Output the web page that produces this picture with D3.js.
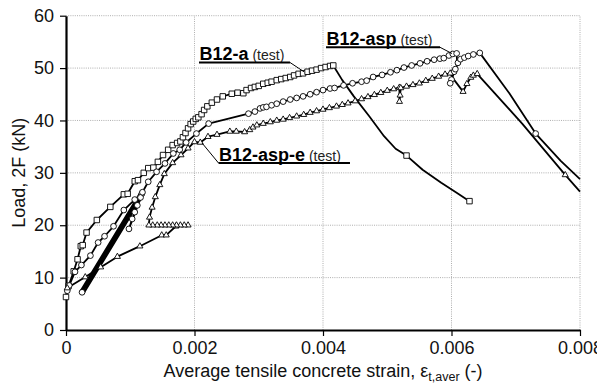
<!DOCTYPE html>
<html><head><meta charset="utf-8">
<script src="https://cdn.jsdelivr.net/npm/d3@7"></script>
<style>body{margin:0;background:#fff}svg{display:block}</style>
</head><body>
<svg id="c" width="597" height="383"></svg>
<script>
// ---- data ----
const xTicks = [0, 0.002, 0.004, 0.006, 0.008];
const xTickLabels = ["0", "0.002", "0.004", "0.006", "0.008"];
const yTicks = [0, 10, 20, 30, 40, 50, 60];
const seriesNames = ["B12-a", "B12-asp", "B12-asp-e"];
const testTag = "(test)";

// [strain, load (kN), measured point shown with marker 1/0]
const b12a = [
 [0,6.3,1],[0.00004,8.4,1],[0.00012,11.2,1],[0.00018,13.5,1],[0.00023,16.0,1],[0.00026,16.2,1],
 [0.00032,18.6,1],[0.00048,21.0,1],[0.00069,23.5,1],[0.0009,25.9,1],[0.00096,26.0,1],[0.00107,28.4,1],
 [0.00112,28.6,1],[0.00121,30.0,1],[0.00128,30.9,1],[0.00136,31.0,1],[0.00143,32.1,1],[0.00151,33.4,1],
 [0.00159,34.4,1],[0.00166,35.3,1],[0.00173,35.7,1],[0.00178,36.0,1],[0.00182,36.8,1],[0.00186,37.6,1],
 [0.0019,38.5,1],[0.00194,39.3,1],[0.00198,39.8,1],[0.00202,40.3,1],[0.00206,40.6,1],[0.00211,41.2,1],
 [0.00215,42.0,1],[0.0022,42.7,1],[0.00227,43.4,1],[0.00235,44.0,1],[0.00244,44.6,1],[0.00258,45.1,1],
 [0.00267,45.3,1],[0.00276,45.2,1],[0.00281,45.8,1],[0.00288,46.2,1],[0.00294,46.4,1],[0.003,46.6,1],
 [0.00307,47.0,1],[0.00314,47.2,1],[0.0032,47.4,1],[0.00328,47.7,1],[0.00335,47.9,1],[0.00342,48.1,1],
 [0.00349,48.3,1],[0.00355,48.6,1],[0.00362,48.9,1],[0.00369,49.0,1],[0.00376,49.3,1],[0.00383,49.5,1],
 [0.0039,49.7,1],[0.00397,50.0,1],[0.00404,50.2,1],[0.00411,50.4,1],[0.00416,50.5,1],
 [0.0043,47.7,0],[0.00448,44.6,0],[0.00472,40.8,0],[0.00495,37.0,0],[0.00513,34.6,0],[0.0053,33.3,1],
 [0.00555,30.6,0],[0.00584,28.1,0],[0.00608,26.2,0],[0.00628,24.6,1]
];

const b12asp = [
 [0.00002,7.5,1],[0.00005,8.5,1],[0.00014,11.1,1],[0.00024,12.4,1],[0.00038,14.2,1],[0.0005,16.7,1],
 [0.0006,17.9,1],[0.00074,19.8,1],[0.0009,22.9,1],[0.00107,24.9,1],[0.00118,26.0,1],
 [0.00025,7.2,1],[0.001206,25.8,0],[0.000276,7.0,0],[0.00118,26.0,0],[0.000224,7.4,0],[0.001154,26.2,0],
 [0.00025,7.2,0],[0.00119,26.1,0],
 [0.00098,19.3,1],[0.00103,21.2,1],[0.00107,22.5,1],[0.00111,23.8,1],[0.00116,25.3,1],[0.00119,26.3,1],
 [0.00128,28.3,1],[0.00141,30.2,1],[0.00154,31.8,1],[0.00167,33.7,1],[0.00177,34.4,1],[0.00187,35.8,1],
 [0.00203,37.5,1],[0.00222,39.4,1],
 [0.00284,41.3,1],[0.00294,41.7,1],[0.00302,42.3,1],[0.00307,42.5,1],[0.00312,42.6,1],[0.0032,42.9,1],
 [0.00328,43.2,1],[0.00338,43.6,1],[0.00349,44.0,1],[0.00359,44.3,1],[0.00369,44.6,1],[0.0038,45.0,1],
 [0.0039,45.4,1],[0.004,45.8,1],[0.00411,46.1,1],[0.00418,46.2,1],[0.00432,46.7,1],[0.00446,47.1,1],
 [0.0046,47.4,1],[0.00468,47.6,1],[0.00478,48.3,1],[0.00492,48.7,1],[0.00505,49.2,1],[0.00515,49.6,1],
 [0.00526,50.1,1],[0.00538,50.5,1],[0.00551,50.9,1],[0.00562,51.3,1],[0.00573,51.6,1],[0.00582,51.8,1],
 [0.00588,51.9,1],[0.00596,52.4,1],[0.00602,52.7,1],[0.00608,52.8,1],
 [0.00609,50.6,0],[0.00604,49.3,1],[0.006,47.8,1],[0.00598,47.1,1],[0.00606,49.8,1],[0.0061,51.0,1],
 [0.00614,51.7,1],[0.0062,52.0,1],[0.00626,52.3,1],[0.00634,52.6,1],[0.00644,52.9,1],
 [0.0069,45.2,0],[0.00731,37.5,1],[0.0077,32.3,0],[0.008,28.8,0]
];

const b12aspE = [
 [0.00002,8.0,1],[0.0003,10.1,1],[0.00054,12.0,1],[0.0008,14.0,1],[0.00115,16.0,1],[0.00149,18.1,1],
 [0.00156,18.1,1],[0.00171,19.8,1],[0.0019,20.0,1],
 [0.00184,20,1],[0.00178,20,1],[0.00172,20,1],[0.00166,20,1],[0.0016,20,1],[0.00154,20,1],
 [0.00148,20,1],[0.00142,20,1],[0.00135,20,1],[0.00129,20,1],
 [0.0013,21.5,1],[0.00134,23.4,1],[0.00139,25.4,1],[0.00146,27.7,1],[0.00153,29.8,1],[0.00166,31.9,1],
 [0.00179,33.4,1],[0.0019,34.7,1],[0.002,35.9,1],[0.00209,35.8,1],[0.00221,36.9,1],[0.00235,37.3,1],
 [0.00255,37.9,1],[0.00265,37.9,1],[0.00278,37.8,1],[0.00286,38.2,1],[0.00291,38.7,1],[0.00297,39.1,1],
 [0.00307,39.4,1],[0.00318,39.7,1],[0.00328,40.0,1],[0.00338,40.2,1],[0.00348,40.5,1],[0.00359,40.8,1],
 [0.0037,41.1,1],[0.0038,41.5,1],[0.0039,41.8,1],[0.004,42.1,1],[0.0041,42.4,1],[0.00421,42.7,1],
 [0.0043,43.0,1],[0.00439,43.3,1],[0.0045,43.7,1],[0.0046,44.1,1],[0.0047,44.5,1],[0.0048,44.9,1],
 [0.0049,45.3,1],[0.005,45.7,1],[0.0051,46.0,1],[0.00519,46.3,1],
 [0.00519,43.6,1],[0.0052,44.8,1],[0.00521,46.2,1],
 [0.0053,46.5,1],[0.0054,46.8,1],[0.0055,47.1,1],[0.0056,47.6,1],[0.0057,48.0,1],[0.0058,48.4,1],
 [0.0059,48.8,1],[0.00598,49.0,1],
 [0.00605,47.6,0],[0.00618,45.5,1],[0.00624,47.0,1],[0.0063,48.2,1],[0.00634,48.6,1],[0.0064,48.9,1],
 [0.0071,39.4,0],[0.00777,29.6,1],[0.008,26.4,0]
];

// label annotations in data units: underline start, underline end strain, leader target
const labelStart = [[0.00207,51.07],[0.004047,53.97],[0.002374,31.88]];
const labelEnd   = [0.003486, 0.005821, 0.00442];
const labelTarget= [[0.003704,49.3],[0.006008,52.78],[0.002117,35.7]];

// ---- chart ----
const svg=d3.select("#c");
const x=d3.scaleLinear().domain([0,0.008]).range([66,580]);
const y=d3.scaleLinear().domain([0,60]).range([330,15.7]);
const FONT="'Liberation Sans', Arial, Helvetica, sans-serif";

// grid
const g=svg.append("g");
g.selectAll("line.gy").data(yTicks.filter(d=>d>0)).join("line")
 .attr("x1",x(0)).attr("x2",x(0.008)).attr("y1",d=>y(d)).attr("y2",d=>y(d))
 .attr("stroke","#9a9a9a").attr("stroke-width",0.8).attr("stroke-dasharray","1,1.2");
g.selectAll("line.gx").data(xTicks.filter(d=>d>0)).join("line")
 .attr("y1",y(0)).attr("y2",y(60)).attr("x1",d=>x(d)).attr("x2",d=>x(d))
 .attr("stroke","#9a9a9a").attr("stroke-width",0.8).attr("stroke-dasharray","1,1.2");

// axes
const ax=svg.append("g").attr("transform",`translate(0,${y(0)})`)
 .call(d3.axisBottom(x).tickValues(xTicks).tickFormat((d,i)=>xTickLabels[i]).tickSize(6).tickPadding(5).tickSizeOuter(0));
const ay=svg.append("g").attr("transform",`translate(${x(0)},0)`)
 .call(d3.axisLeft(y).tickValues(yTicks).tickSize(6).tickPadding(6).tickSizeOuter(0));
[ax,ay].forEach(a=>{
 a.select(".domain").attr("stroke","#000").attr("stroke-width",2.2);
 a.selectAll(".tick line").attr("stroke","#000").attr("stroke-width",1.2);
 a.selectAll(".tick text").attr("font-family",FONT).attr("font-size",18).attr("fill","#111");
});

// series
const line=d3.line().x(d=>x(d[0])).y(d=>y(d[1]));
const plot=svg.append("g");
const all=[b12a,b12asp,b12aspE];
const symbols=[d3.symbolSquare,d3.symbolCircle,d3.symbolTriangle];
const sizes=[30,26,16];
all.forEach((s,i)=>{
 plot.append("path").datum(s).attr("d",line).attr("fill","none").attr("stroke","#000")
  .attr("stroke-width",1.8).attr("stroke-linejoin","round");
});
all.forEach((s,i)=>{
 plot.append("g").selectAll("path").data(s.filter(d=>d[2])).join("path")
  .attr("transform",d=>`translate(${x(d[0])},${y(d[1])})`)
  .attr("d",d3.symbol(symbols[i],sizes[i]))
  .attr("fill","#fff").attr("stroke","#000").attr("stroke-width",0.9);
});

// labels
const lab=svg.append("g");
seriesNames.forEach((n,i)=>{
 const sx=x(labelStart[i][0]), sy=y(labelStart[i][1]);
 const ex=x(labelEnd[i]);
 const t=lab.append("text").attr("x",sx+0.5).attr("y",sy-2.5).attr("font-family",FONT).attr("fill","#000");
 t.append("tspan").attr("font-weight","bold").attr("font-size",18).text(n);
 t.append("tspan").attr("font-size",14).attr("fill","#222").text(" "+testTag);
 lab.append("line").attr("x1",sx).attr("x2",ex).attr("y1",sy).attr("y2",sy).attr("stroke","#000").attr("stroke-width",2);
 const lx = i===2 ? sx : ex;
 lab.append("line").attr("x1",lx).attr("y1",sy).attr("x2",x(labelTarget[i][0])).attr("y2",y(labelTarget[i][1]))
  .attr("stroke","#000").attr("stroke-width",1);
});

// axis titles
const xt=svg.append("text").attr("x",(x(0)+x(0.008))/2).attr("y",377).attr("text-anchor","middle")
 .attr("font-family",FONT).attr("font-size",18).attr("fill","#111");
xt.append("tspan").text("Average tensile concrete strain, ε");
xt.append("tspan").attr("font-size",12.5).attr("dy",4).text("t,aver");
xt.append("tspan").attr("dy",-4).text(" (-)");
svg.append("text").attr("transform",`translate(24.5,${(y(0)+y(60))/2}) rotate(-90)`).attr("text-anchor","middle")
 .attr("font-family",FONT).attr("font-size",18).attr("fill","#111").text("Load, 2F (kN)");
</script>
</body></html>
